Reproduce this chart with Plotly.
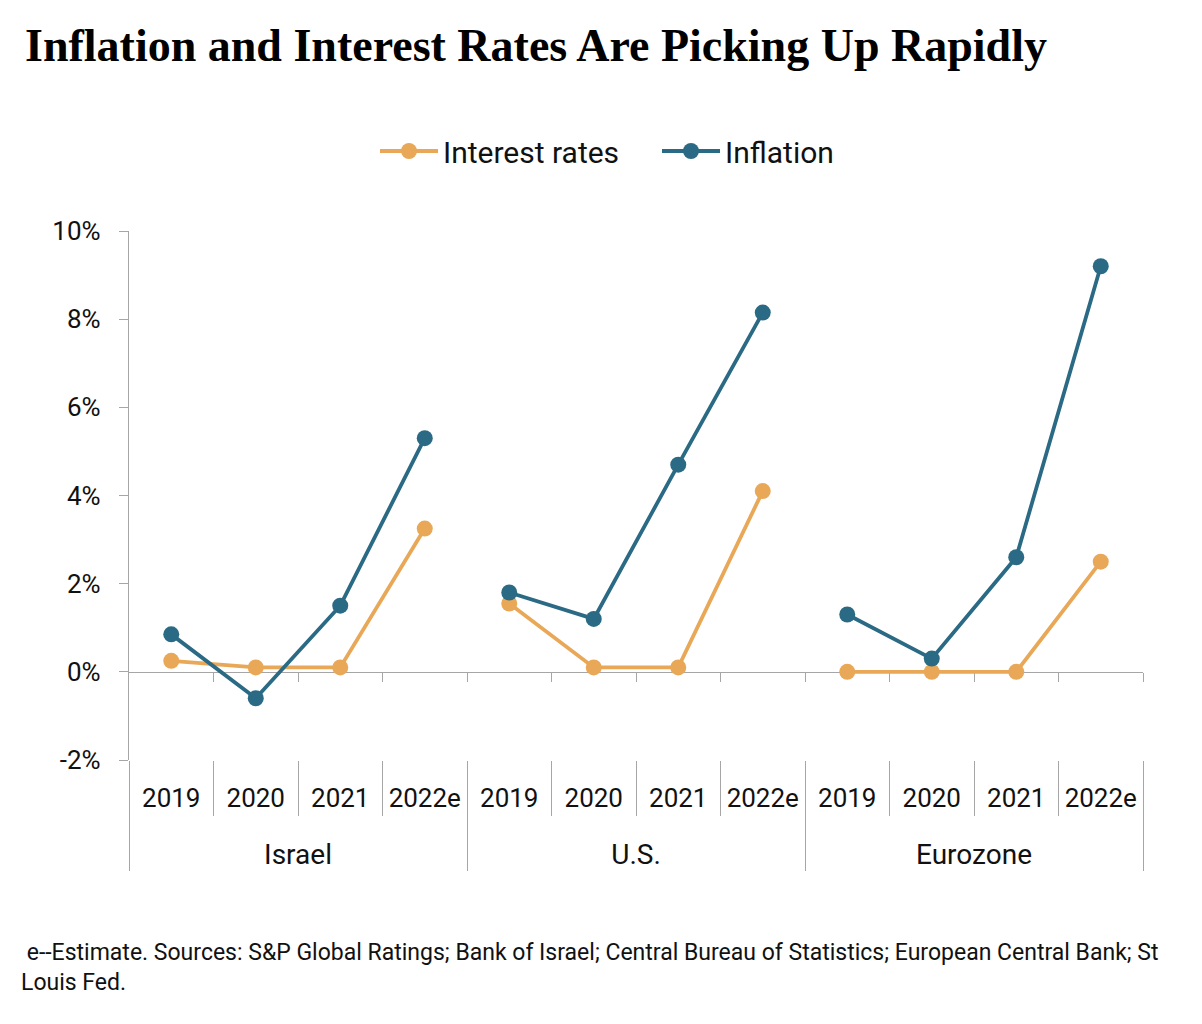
import plotly.graph_objects as go

regions = ["Israel", "U.S.", "Eurozone"]
years = ["2019", "2020", "2021", "2022e"]

interest_israel = [0.25, 0.1, 0.1, 3.25]
interest_us = [1.55, 0.1, 0.1, 4.1]
interest_euro = [0.0, 0.0, 0.0, 2.5]

inflation_israel = [0.85, -0.6, 1.5, 5.3]
inflation_us = [1.8, 1.2, 4.7, 8.15]
inflation_euro = [1.3, 0.3, 2.6, 9.2]

y_tickvals = [-2, 0, 2, 4, 6, 8, 10]
y_ticktext = ["-2%", "0%", "2%", "4%", "6%", "8%", "10%"]

title_text = "Inflation and Interest Rates Are Picking Up Rapidly"
note_text = (" e--Estimate. Sources: S&P Global Ratings; Bank of Israel; Central Bureau of Statistics; "
             "European Central Bank; St<br>Louis Fed.")

ORANGE = "#E8A857"
BLUE = "#2B6A84"
GRAY = "#A6A6A6"
TEXT = "#111111"
FONT = "Roboto"

# page is offset 8px by the default body margin -> figure is 8px smaller
W, H = 1194, 1016
ML, MR, MT, MB = 121, 59, 223, 264
PLOT_W = W - ML - MR
PLOT_H = H - MT - MB

n_y = len(years)
n_cat = len(regions) * n_y
cat_pos = list(range(n_cat))
cat_labels = years * len(regions)
inner_bounds = [k + 0.5 for k in range(n_cat - 1)]
all_bounds = [k - 0.5 for k in range(n_cat + 1)]
group_centers = [g * n_y + (n_y - 1) / 2 for g in range(len(regions))]
group_bounds = [g * n_y - 0.5 for g in range(len(regions) + 1)]

series = [
    ("Interest rates", ORANGE, [interest_israel, interest_us, interest_euro]),
    ("Inflation", BLUE, [inflation_israel, inflation_us, inflation_euro]),
]

fig = go.Figure()

# empty helper traces so the overlay axes (zero line, region labels) are drawn
fig.add_trace(go.Scatter(x=all_bounds, y=[None] * len(all_bounds), xaxis="x2", yaxis="y",
                         mode="lines", showlegend=False, hoverinfo="skip"))
fig.add_trace(go.Scatter(x=group_centers, y=[None] * len(group_centers), xaxis="x3", yaxis="y",
                         mode="lines", showlegend=False, hoverinfo="skip"))

for name, color, groups in series:
    for g, vals in enumerate(groups):
        fig.add_trace(go.Scatter(
            x=cat_pos[g * n_y:(g + 1) * n_y],
            y=vals,
            mode="lines+markers",
            name=name,
            legendgroup=name,
            showlegend=(g == 0),
            line=dict(color=color, width=3.8),
            marker=dict(color=color, size=16),
            hoverinfo="skip",
        ))

xr = [-0.5, n_cat - 0.5]

fig.update_layout(
    width=W, height=H,
    margin=dict(l=ML, r=MR, t=MT, b=MB, autoexpand=False),
    paper_bgcolor="white", plot_bgcolor="white",
    font=dict(family=FONT, size=26, color=TEXT),
    title=dict(
        text=title_text,
        font=dict(family="Liberation Serif", size=46, color="#000000", weight="bold"),
        x=17 / W, xref="container", xanchor="left",
        y=1 - 21 / H, yref="container", yanchor="top",
    ),
    showlegend=True,
    legend=dict(
        orientation="h",
        x=(367 - ML) / PLOT_W, xanchor="left",
        y=1 + (MT - 143) / PLOT_H, yanchor="middle",
        itemwidth=58,
        entrywidth=209, entrywidthmode="pixels",
        font=dict(family=FONT, size=30, color=TEXT),
        bgcolor="rgba(0,0,0,0)",
    ),
    # year labels + year separators
    xaxis=dict(
        range=xr,
        tickmode="array",
        tickvals=cat_pos,
        ticktext=cat_labels,
        ticks="",
        showline=False,
        showgrid=False,
        zeroline=False,
        ticklabelstandoff=20,
        tickfont=dict(family=FONT, size=26, color=TEXT),
        minor=dict(
            tickmode="array",
            tickvals=inner_bounds,
            ticks="outside",
            ticklen=55,
            tickwidth=1.3,
            tickcolor=GRAY,
            showgrid=False,
        ),
    ),
    # zero line with short boundary ticks (kept below the data)
    xaxis2=dict(
        overlaying="x",
        anchor="free",
        position=(0 - y_tickvals[0]) / (y_tickvals[-1] - y_tickvals[0]),
        range=xr,
        layer="below traces",
        tickmode="array",
        tickvals=all_bounds[1:],
        ticks="outside",
        ticklen=9,
        tickwidth=1.3,
        tickcolor=GRAY,
        showline=True,
        linecolor=GRAY,
        linewidth=1.3,
        showticklabels=False,
        showgrid=False,
        zeroline=False,
    ),
    # region labels + region dividers
    xaxis3=dict(
        overlaying="x",
        anchor="free",
        position=0,
        range=xr,
        tickmode="array",
        tickvals=group_centers,
        ticktext=regions,
        ticks="",
        showline=False,
        showgrid=False,
        zeroline=False,
        ticklabelstandoff=75,
        tickfont=dict(family=FONT, size=28, color=TEXT),
        minor=dict(
            tickmode="array",
            tickvals=group_bounds,
            ticks="outside",
            ticklen=110,
            tickwidth=1.3,
            tickcolor=GRAY,
            showgrid=False,
        ),
    ),
    yaxis=dict(
        range=[y_tickvals[0], y_tickvals[-1]],
        tickmode="array",
        tickvals=y_tickvals,
        ticktext=y_ticktext,
        ticks="outside",
        ticklen=9,
        tickwidth=1.3,
        tickcolor=GRAY,
        showline=True,
        linecolor=GRAY,
        linewidth=1.3,
        showgrid=False,
        zeroline=False,
        ticklabelstandoff=13,
        tickfont=dict(family=FONT, size=26, color=TEXT),
    ),
    annotations=[dict(
        text=note_text,
        xref="paper", yref="paper",
        x=(11 - ML) / PLOT_W, y=(PLOT_H + MT - 929) / PLOT_H,
        xanchor="left", yanchor="top", align="left",
        showarrow=False,
        font=dict(family=FONT, size=23, color=TEXT),
    )],
)

fig.write_html("out.html")
